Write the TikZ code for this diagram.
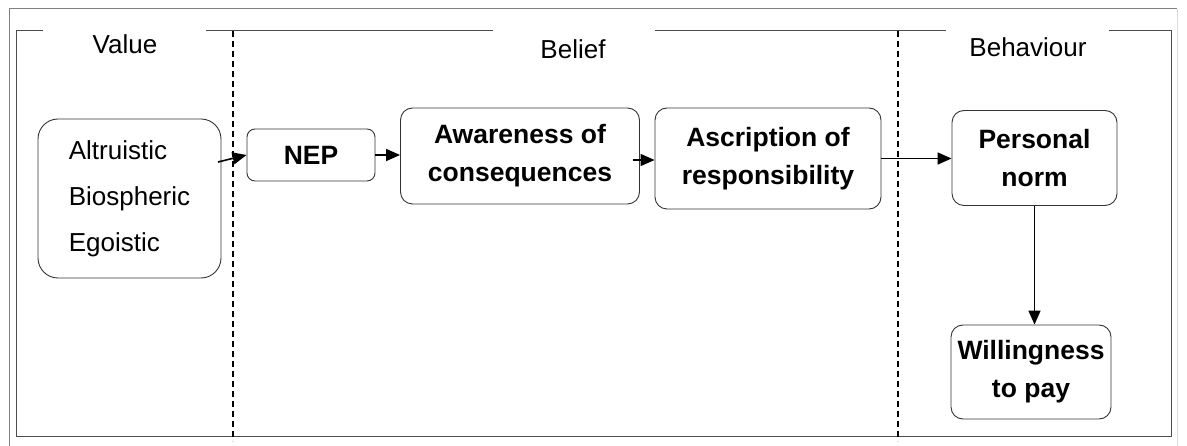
\documentclass[tikz,border=0pt]{standalone}
\usepackage{fontspec}
\setmainfont{Liberation Sans}
\usetikzlibrary{arrows.meta}
\tikzset{
  box/.style={draw=black!80, line width=0.9pt, rounded corners=12pt, inner sep=0pt,
    align=center, font=\bfseries\fontsize{26.5}{38}\selectfont},
  arr/.style={-{Triangle[length=14pt,width=12pt]}, line width=1.6pt},
  head/.style={anchor=base, font=\fontsize{26}{30}\selectfont},
  frame/.style={black!70, line width=1pt},
  split/.style={dash pattern=on 6pt off 4pt, line width=1.5pt}
}

\begin{document}
\begin{tikzpicture}[x=1pt,y=-1pt]
  \useasboundingbox (0,0) rectangle (1187,446);

  % outer and inner frames
  \draw[black!50, line width=1pt] (9,450) -- (9,9) -- (1177,9);
  \draw[black!15, line width=1pt] (1177,9) -- (1177,450);
  \draw[frame] (43,31) -- (16,31) -- (16,437) -- (1171,437) -- (1171,31) -- (1109,31);
  \draw[frame] (206,31) -- (493,31);
  \draw[frame] (655,31) -- (946,31);

  % headings
  \node[head] (value) at (125,54) {Value};
  \node[head] (belief) at (573,59) {Belief};
  \node[head] (behav) at (1028,57) {Behaviour};

  % separators
  \draw[split] (233,31) -- (233,441);
  \draw[split] (898,31) -- (898,441);

  % boxes
  \node[box, rounded corners=20pt, align=left, font=\fontsize{26}{46}\selectfont,
    minimum width=183pt, minimum height=159pt] (vals) at (129.5,198.5)
    {Altruistic\\Biospheric\\Egoistic};
  \node[box, rounded corners=8pt, minimum width=128pt, minimum height=52pt] (nep) at (311,155) {NEP};
  \node[box, minimum width=239pt, minimum height=96pt] (aware) at (520,156) {Awareness of\\consequences};
  \node[box, minimum width=226pt, minimum height=101pt] (ascr) at (768,158.5) {Ascription of\\responsibility};
  \node[box, minimum width=165pt, minimum height=95pt] (pers) at (1034.5,158) {Personal\\norm};
  \node[box, minimum width=160pt, minimum height=94pt] (will) at (1031,372) {Willingness\\to pay};

  % arrows
  \coordinate (vout) at (218,162);
  \draw[arr] (vout) -- (nep.west);
  \draw[arr] (nep.east) -- (nep.east -| aware.west);
  \draw[arr] ([xshift=-7pt,yshift=-4pt]aware.east) -- ([yshift=-4pt]aware.east -| ascr.west);
  \draw[arr] (ascr.east) -- (ascr.east -| pers.west);
  \draw[arr] (pers.south) -- (pers.south |- will.north);
\end{tikzpicture}
\end{document}
